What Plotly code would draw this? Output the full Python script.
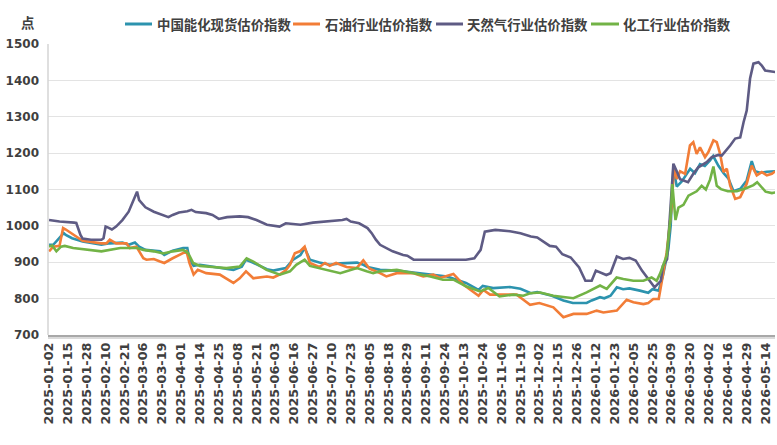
import plotly.graph_objects as go

# ---- tick labels (every 9th trading day) ----
tick_labels = ["2025-01-02","2025-01-15","2025-01-28","2025-02-10","2025-02-21","2025-03-06",
               "2025-03-19","2025-04-01","2025-04-14","2025-04-25","2025-05-08","2025-05-21",
               "2025-06-03","2025-06-16","2025-06-27","2025-07-10","2025-07-23","2025-08-05",
               "2025-08-18","2025-08-29","2025-09-11","2025-09-24","2025-10-13","2025-10-24",
               "2025-11-06","2025-11-19","2025-12-02","2025-12-15","2025-12-26","2026-01-12",
               "2026-01-23","2026-02-05","2026-02-25","2026-03-09","2026-03-20","2026-04-02",
               "2026-04-16","2026-04-29","2026-05-14"]
tick_step = 9
n_days = 347

# ---- series: trading-day index, value ----
energy_x = [0,2,7,8,11,16,25,29,35,38,41,43,46,53,55,59,64,66,67,69,72,78,85,88,92,94,97,104,107,110,
            113,116.5,120,122,124.5,129,134,139,142,147,150,152,158,166,174,182,190,194.5,199,205,207,212,220,225,230,
            233,240,245.5,250,256.6,259,263,265,268,271,274,277,282,286,288,291,293,295.6,296.7,298,
            299.6,302,304.4,306,308.3,310.7,313,315.5,317,319.5,322,324.3,326.7,330,333,335.4,337,339.4,342.6,345.8,346.6]
energy_y = [948,948,980,975,966,957,948,952,954,948,954,943,934,930,920,932,939,939,907,890,893,887,881,879,888,907,900,881,877,881,
            884,907,920,939,907,899,893,897,897,899,893,887,879,877,872,866,861,852,843,824,835,829,832,827,815,
            818,808,795,788,788,795,804,801,808,831,826,828,822,816,826,822,863,936,1000,1160,
            1108,1122,1143,1157,1145,1170,1165,1180,1192,1165,1145,1130,1095,1102,1125,1178,1150,1146,1149,1151,1150]

oil_x = [0,2,5,6.7,8,10.7,16,25,27.4,29,32,37,38.5,41.7,45,46.5,50,53,55,59,62,65.6,67,69,71,75,81.5,88,91,94,97.5,104,107,110,
         113,115,117.3,119.7,122,124.5,129,131.7,134,137,142,146.8,150,153,158,161,166,174,178.6,183.4,186.6,193,197.7,202.5,205,207.3,210.5,218.4,223.2,226.4,229.6,
         234,240.7,245.5,250.3,256.6,261.4,264.6,271,275.7,278.9,283.7,286,288.4,291,292.4,294.8,297.2,298.3,
         299.6,301.2,303.6,305.9,307.5,309.1,310.7,313.1,314.7,317.1,318.7,320.3,321.9,323.5,325.1,327.5,329.9,333,335.4,337.8,340.2,342.6,345,346.6]
oil_y = [930,943,945,994,990,980,959,952,952,962,952,952,939,943,911,907,909,902,898,911,920,930,898,866,879,870,866,843,856,875,856,861,858,866,
         878,893,925,930,943,898,887,898,890,898,887,884,905,882,870,861,870,870,861,866,857,868,839,820,808,824,811,811,811,797,783,
         788,776,749,758,758,767,762,767,797,790,785,788,799,799,845,927,1055,1164,
         1129,1150,1143,1221,1230,1198,1216,1189,1203,1235,1230,1198,1148,1157,1111,1074,1079,1116,1166,1139,1148,1139,1143,1150]

gas_x = [0,5,12,13,15,16,20,25,26,27,28,30,32,35,38,39,41,42,43,46,50,53,57,59,62,66,68,70,75,78,81,85,91,95,99,104,110,113,
         120,126,134,140,142,144,148,152,154,156,158,161,164,169,171,174,182,190,199,203,206,208,213,220,225,230,
         233,239,242,245,249,253,256,259,261,266,268,271,274,277,280,283,286,289,292,293,295,297,298,
         299.6,301.2,305,307.5,309.9,313.9,316.3,319.5,321.1,322.7,325.1,327.5,329.9,331.5,333,334.6,336.2,338.6,340.2,341.8,344.2,346.6]
gas_y = [1016,1012,1009,1008,975,965,962,962,966,998,996,990,998,1016,1039,1053,1085,1094,1071,1051,1039,1033,1024,1030,1037,1040,1044,1038,1035,1030,1019,1024,1026,1024,1016,1003,998,1007,
         1003,1009,1012,1016,1019,1012,1007,994,980,962,948,939,930,920,918,907,907,905,907,911,934,984,989,985,980,971,
         968,945,943,922,913,886,849,849,877,865,870,916,909,912,905,877,854,831,849,890,909,1073,1171,
         1150,1128,1120,1143,1161,1175,1189,1195,1193,1203,1221,1240,1243,1285,1317,1405,1446,1450,1441,1427,1425,1423]

chem_x = [0,1.5,3.5,5.7,7.5,11.5,25,29,34,38.5,42,45,50,54.5,59,64,66.4,68.8,72,78,84.7,91,94.3,97.5,103.8,110.2,
          115,118,122,124.5,129,134,139,142,147,151.6,154.7,158,166,174,182,188,193,199,205.7,209.7,215,221.6,226.4,229.6,
          234.4,240.7,245.5,250.3,256.6,263,266.2,270.9,274.1,278.9,283.7,287.6,290,291.6,294.8,296.7,297.5,
          299,300.4,302.8,305.2,307.5,309.1,311.5,313.5,315.5,317.1,318.7,320.7,324,328.3,333,336.2,338,342,345,346.6]
chem_y = [943,946,930,943,945,939,930,934,939,939,939,934,930,924,930,934,925,898,890,887,884,888,911,902,879,866,
          875,893,907,890,884,877,870,875,884,875,870,875,879,870,861,852,852,834,820,829,806,811,808,815,
          817,808,804,801,817,836,827,858,854,849,849,858,849,868,918,1027,1115,
          1016,1050,1058,1083,1090,1095,1110,1100,1127,1163,1110,1101,1095,1095,1104,1112,1120,1094,1090,1092,1088]

names = ["中国能化现货估价指数", "石油行业估价指数", "天然气行业估价指数", "化工行业估价指数"]
colors = ["#2C93AE", "#F27D37", "#5E5B84", "#72B346"]
xs = [energy_x, oil_x, gas_x, chem_x]
ys = [energy_y, oil_y, gas_y, chem_y]

W, H = 777, 445
ML, MR, MT, MB = 48, 2, 44, 110
PW, PH = W - ML - MR, H - MT - MB

def px_x(px):
    return (px - ML) / PW

def px_y(py):
    return (H - MB - py) / PH

fig = go.Figure()
for nm, c, x, y in zip(names, colors, xs, ys):
    fig.add_trace(go.Scatter(x=x, y=y, mode="lines", name=nm,
                             line=dict(color=c, width=2.6)))

ytick_font = dict(family="DejaVu Sans", size=12, color="#3F3F3F", weight="bold")
xtick_font = dict(family="DejaVu Sans", size=12.8, color="#3F3F3F", weight="bold")
leg_font = dict(family="Noto Sans CJK SC", size=13.4, color="#404040", weight="bold")

# manual legend (line sample start px, text start px)
leg_line_px = [(125, 152), (293, 320), (436, 463), (591, 619)]
leg_text_px = [156, 324, 466, 622]
leg_y_px = 24

shapes = [
    dict(type="line", xref="paper", yref="paper", x0=0, x1=0, y0=0, y1=1,
         line=dict(color="#D4D4D4", width=1.5)),
    dict(type="line", xref="paper", yref="paper", x0=0, x1=1, y0=px_y(H - MB + 1), y1=px_y(H - MB + 1),
         line=dict(color="#A8A8A8", width=2)),
    dict(type="line", xref="paper", yref="paper", x0=0, x1=1, y0=px_y(H - MB + 3), y1=px_y(H - MB + 3),
         line=dict(color="#DADADA", width=2)),
]
annotations = [
    dict(text="点", xref="paper", yref="paper", x=px_x(27), y=px_y(22), xanchor="center",
         yanchor="middle", showarrow=False, font=leg_font)
]
for nm, c, (a, b), tx in zip(names, colors, leg_line_px, leg_text_px):
    shapes.append(dict(type="line", xref="paper", yref="paper", x0=px_x(a), x1=px_x(b),
                       y0=px_y(leg_y_px), y1=px_y(leg_y_px), line=dict(color=c, width=3)))
    annotations.append(dict(text=nm, xref="paper", yref="paper", x=px_x(tx), y=px_y(leg_y_px),
                            xanchor="left", yanchor="middle", showarrow=False, font=leg_font,
                            borderpad=0))

fig.update_layout(
    width=W, height=H,
    margin=dict(l=ML, r=MR, t=MT, b=MB, autoexpand=False),
    paper_bgcolor="white", plot_bgcolor="white",
    showlegend=False,
    xaxis=dict(range=[-0.5, n_days - 0.5], tickmode="array",
               tickvals=[i * tick_step for i in range(len(tick_labels))],
               ticktext=tick_labels, tickangle=-90, tickfont=xtick_font,
               showgrid=False, zeroline=False, showline=False, ticks="",
               ticklabelstandoff=4),
    yaxis=dict(range=[700, 1500], dtick=100, tickfont=ytick_font,
               showgrid=True, gridcolor="#E3E3E3", gridwidth=1, zeroline=False,
               showline=False, ticks="", ticklabelstandoff=8),
    shapes=shapes,
    annotations=annotations,
)

fig.write_html("out.html")
